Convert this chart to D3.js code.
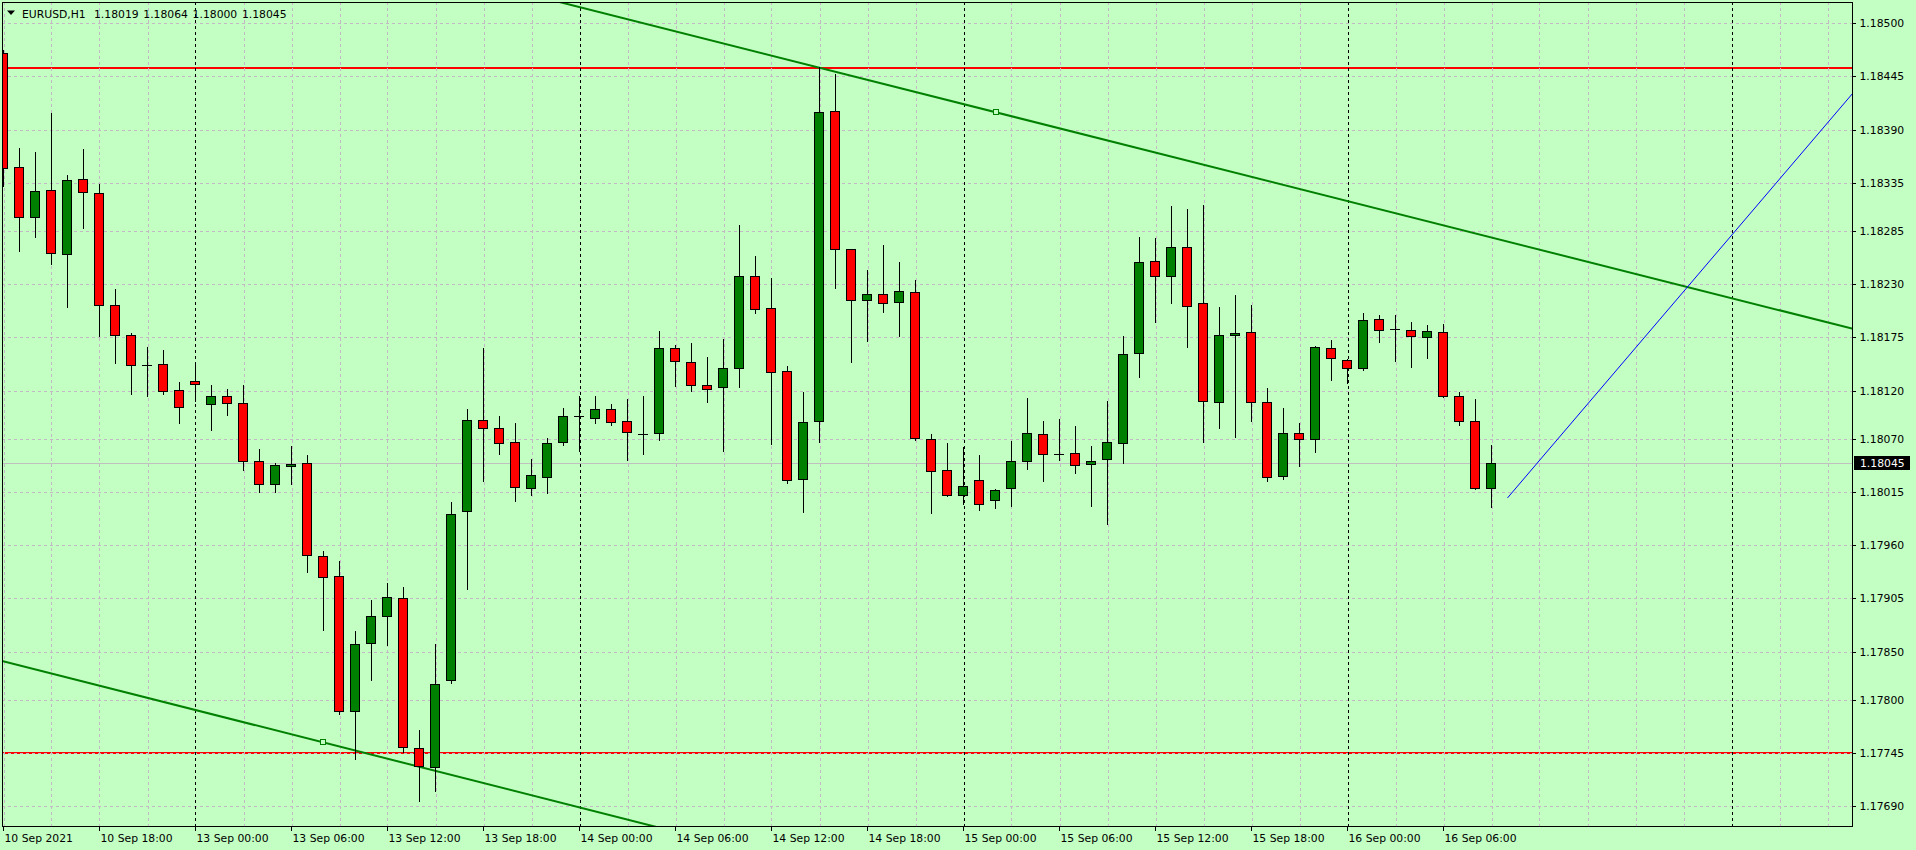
<!DOCTYPE html>
<html><head><meta charset="utf-8">
<script src="https://cdn.jsdelivr.net/npm/d3@7"></script>
<style>
html,body{margin:0;padding:0;background:#c3ffc3;overflow:hidden}
svg{display:block}
text{font-family:"DejaVu Sans",sans-serif;font-size:10.8px;fill:#000}
</style></head><body><svg id="c" width="1916" height="850"></svg>
<script>
// ---------------- data ----------------
const symbol = "EURUSD,H1";
const openP = [1.18469,1.18351,1.18300,1.18328,1.18261,1.18339,1.18324,1.18209,1.18178,1.18146,
 1.18148,1.18121,1.18130,1.18106,1.18114,1.18107,1.18047,1.18023,1.18042,1.18045,
 1.17949,1.17928,1.17789,1.17859,1.17887,1.17905,1.17750,1.17731,1.17821,1.17995,
 1.18090,1.18081,1.18067,1.18019,1.18031,1.18067,1.18094,1.18092,1.18101,1.18089,
 1.18075,1.18076,1.18164,1.18150,1.18126,1.18124,1.18143,1.18239,1.18205,1.18140,
 1.18029,1.18089,1.18409,1.18266,1.18214,1.18220,1.18212,1.18222,1.18070,1.18038,
 1.18012,1.18028,1.18007,1.18019,1.18047,1.18075,1.18054,1.18055,1.18044,1.18049,
 1.18066,1.18159,1.18254,1.18239,1.18269,1.18211,1.18108,1.18178,1.18181,1.18108,
 1.18032,1.18076,1.18070,1.18164,1.18152,1.18143,1.18194,1.18184,1.18183,1.18175,
 1.18181,1.18114,1.18089,1.18019];
const highP = [1.18472,1.18371,1.18367,1.18407,1.18343,1.18370,1.18334,1.18225,1.18180,1.18165,
 1.18162,1.18129,1.18150,1.18126,1.18122,1.18126,1.18060,1.18045,1.18063,1.18053,
 1.17954,1.17944,1.17871,1.17903,1.17921,1.17917,1.17769,1.17858,1.18005,1.18101,
 1.18164,1.18094,1.18086,1.18049,1.18071,1.18102,1.18114,1.18114,1.18106,1.18111,
 1.18114,1.18182,1.18167,1.18169,1.18155,1.18173,1.18291,1.18259,1.18237,1.18145,
 1.18119,1.18455,1.18448,1.18267,1.18245,1.18271,1.18253,1.18234,1.18075,1.18066,
 1.18062,1.18053,1.18018,1.18068,1.18112,1.18089,1.18091,1.18083,1.18063,1.18109,
 1.18177,1.18279,1.18278,1.18311,1.18308,1.18312,1.18207,1.18219,1.18209,1.18123,
 1.18102,1.18086,1.18166,1.18172,1.18153,1.18200,1.18198,1.18198,1.18191,1.18188,
 1.18189,1.18119,1.18111,1.18064];
const lowP = [1.18332,1.18264,1.18279,1.18251,1.18207,1.18288,1.18177,1.18149,1.18116,1.18114,
 1.18116,1.18087,1.18109,1.18079,1.18095,1.18038,1.18015,1.18015,1.18023,1.17932,
 1.17872,1.17785,1.17739,1.17821,1.17857,1.17746,1.17695,1.17706,1.17818,1.17915,
 1.18027,1.18054,1.18006,1.18012,1.18014,1.18064,1.18058,1.18087,1.18084,1.18048,
 1.18054,1.18069,1.18125,1.18120,1.18108,1.18058,1.18124,1.18200,1.18065,1.18024,
 1.17994,1.18067,1.18226,1.18150,1.18171,1.18201,1.18176,1.18069,1.17993,1.18011,
 1.18003,1.17997,1.17999,1.18001,1.18039,1.18027,1.18048,1.18035,1.18001,1.17982,
 1.18045,1.18134,1.18191,1.18211,1.18165,1.18067,1.18081,1.18072,1.18089,1.18026,
 1.18029,1.18042,1.18057,1.18131,1.18128,1.18141,1.18170,1.18151,1.18144,1.18154,
 1.18113,1.18084,1.18018,1.18000];
const closeP = [1.18350,1.18300,1.18327,1.18262,1.18338,1.18325,1.18209,1.18178,1.18146,1.18146,
 1.18120,1.18103,1.18127,1.18114,1.18107,1.18047,1.18023,1.18043,1.18044,1.17950,
 1.17927,1.17789,1.17858,1.17887,1.17906,1.17751,1.17732,1.17817,1.17992,1.18090,
 1.18081,1.18066,1.18020,1.18033,1.18066,1.18094,1.18094,1.18101,1.18088,1.18077,
 1.18075,1.18164,1.18151,1.18126,1.18122,1.18143,1.18239,1.18204,1.18139,1.18028,
 1.18088,1.18408,1.18267,1.18214,1.18220,1.18211,1.18223,1.18071,1.18037,1.18012,
 1.18021,1.18003,1.18017,1.18047,1.18076,1.18054,1.18054,1.18043,1.18047,1.18067,
 1.18158,1.18253,1.18239,1.18269,1.18208,1.18109,1.18178,1.18180,1.18108,1.18031,
 1.18076,1.18070,1.18165,1.18154,1.18143,1.18193,1.18183,1.18184,1.18176,1.18182,
 1.18114,1.18089,1.18019,1.18045];
const yTickValues = [1.18500,1.18445,1.18390,1.18335,1.18285,1.18230,1.18175,1.18120,
 1.18070,1.18015,1.17960,1.17905,1.17850,1.17800,1.17745,1.17690];
const xTickIndex = [0,6,12,18,24,30,36,42,48,54,60,66,72,78,84,90];
const xTickLabels = ["10 Sep 2021","10 Sep 18:00","13 Sep 00:00","13 Sep 06:00","13 Sep 12:00",
 "13 Sep 18:00","14 Sep 00:00","14 Sep 06:00","14 Sep 12:00","14 Sep 18:00","15 Sep 00:00",
 "15 Sep 06:00","15 Sep 12:00","15 Sep 18:00","16 Sep 00:00","16 Sep 06:00"];
const daySeparatorIndex = [12,36,60,84,108];
const resistanceLevel = 1.18454;
const supportLevel = 1.17745;
const bidPrice = 1.18045;
const upperTrend = [[51,1.18454],[62,1.18408]];
const lowerTrend = [[0,1.17840],[20,1.17756]];
const blueTrend = [[94,1.18009],[115.6,1.18428]];

// ---------------- layout ----------------
const W = 1916, H = 850;
const L = 2, T = 2, R = 1853, B = 826;
const svg = d3.select("#c");
const bg = "#c3ffc3";

const x = d3.scaleLinear().domain([0, 115]).range([3.5, 3.5 + 16 * 115]);
const y = d3.scaleLinear().domain([1.176696, 1.185220]).range([B, T]);
const idxMin = x.invert(L), idxMax = x.invert(R);
const px = v => Math.round(v) + 0.5;

svg.append("rect").attr("width", W).attr("height", H).attr("fill", bg);

svg.append("defs").append("clipPath").attr("id", "plot")
  .append("rect").attr("x", L).attr("y", T).attr("width", R - L).attr("height", B - T);

const plot = svg.append("g").attr("clip-path", "url(#plot)");

// horizontal red levels (behind grid)
plot.selectAll("line.lvl").data([resistanceLevel, supportLevel]).join("line")
  .attr("class", "lvl")
  .attr("x1", L).attr("x2", R)
  .attr("y1", d => Math.round(y(d))).attr("y2", d => Math.round(y(d)))
  .attr("stroke", "#ff0000").attr("stroke-width", 2);

// grid
const gridColor = "#c4b8c4";
const vGrid = d3.range(0, 116, 3).filter(i => !daySeparatorIndex.includes(i));
plot.selectAll("line.vg").data(vGrid).join("line").attr("class", "vg")
  .attr("x1", d => px(x(d))).attr("x2", d => px(x(d)))
  .attr("y1", T).attr("y2", B)
  .attr("stroke", gridColor).attr("stroke-dasharray", "3,3").attr("shape-rendering", "crispEdges");
plot.selectAll("line.hg").data(yTickValues).join("line").attr("class", "hg")
  .attr("y1", d => px(y(d))).attr("y2", d => px(y(d)))
  .attr("x1", L).attr("x2", R)
  .attr("stroke", gridColor).attr("stroke-dasharray", "3,3").attr("shape-rendering", "crispEdges");
plot.selectAll("line.ds").data(daySeparatorIndex).join("line").attr("class", "ds")
  .attr("x1", d => px(x(d))).attr("x2", d => px(x(d)))
  .attr("y1", T).attr("y2", B)
  .attr("stroke", "#000").attr("stroke-dasharray", "3,3").attr("shape-rendering", "crispEdges");

// bid line
plot.append("line").attr("x1", L).attr("x2", R)
  .attr("y1", px(y(bidPrice))).attr("y2", px(y(bidPrice)))
  .attr("stroke", "#c0c0c0").attr("shape-rendering", "crispEdges");

// trend lines
function lineAt(a, t) {
  const s = (a[1][1] - a[0][1]) / (a[1][0] - a[0][0]);
  return a[0][1] + (t - a[0][0]) * s;
}
[upperTrend, lowerTrend].forEach(tr => {
  plot.append("line")
    .attr("x1", x(idxMin)).attr("y1", y(lineAt(tr, idxMin)))
    .attr("x2", x(idxMax)).attr("y2", y(lineAt(tr, idxMax)))
    .attr("stroke", "#008000").attr("stroke-width", 2);
  plot.append("rect")
    .attr("x", Math.round(x(tr[1][0])) - 2.5).attr("y", Math.round(y(tr[1][1])) - 2.5)
    .attr("width", 5).attr("height", 5)
    .attr("fill", bg).attr("stroke", "#008000").attr("stroke-width", 1);
});
plot.append("line")
  .attr("x1", x(blueTrend[0][0])).attr("y1", y(blueTrend[0][1]))
  .attr("x2", x(idxMax)).attr("y2", y(lineAt(blueTrend, idxMax)))
  .attr("stroke", "#0000ff").attr("stroke-width", 1);

// candles
const bars = openP.map((o, i) => ({ i, o, h: highP[i], l: lowP[i], c: closeP[i] }));
const cg = plot.append("g").attr("shape-rendering", "crispEdges");
cg.selectAll("line.wick").data(bars).join("line").attr("class", "wick")
  .attr("x1", d => x(d.i)).attr("x2", d => x(d.i))
  .attr("y1", d => Math.round(y(d.h))).attr("y2", d => Math.round(y(d.l)) + 1)
  .attr("stroke", "#000");
cg.selectAll("g.body").data(bars).join(d => d.append("g").attr("class", "body"))
  .each(function (d) {
    const g = d3.select(this);
    const yt = Math.round(y(Math.max(d.o, d.c)));
    const yb = Math.round(y(Math.min(d.o, d.c)));
    const cx = x(d.i);
    if (yb - yt < 1) {
      g.append("line").attr("x1", cx - 5.5).attr("x2", cx + 4.5)
        .attr("y1", yt + 0.5).attr("y2", yt + 0.5).attr("stroke", "#000");
    } else {
      g.append("rect").attr("x", cx - 5).attr("y", yt + 0.5)
        .attr("width", 9).attr("height", yb - yt)
        .attr("fill", d.c > d.o ? "#008000" : "#ff0000")
        .attr("stroke", "#000").attr("stroke-width", 1);
    }
  });

// frame
svg.append("rect").attr("x", L + 0.5).attr("y", T + 0.5)
  .attr("width", R - L - 1).attr("height", B - T)
  .attr("fill", "none").attr("stroke", "#000").attr("shape-rendering", "crispEdges");

// y axis
const yAxis = svg.append("g").attr("transform", `translate(${R - 0.5},0)`)
  .call(d3.axisRight(y).tickValues(yTickValues).tickSize(3).tickPadding(4).tickFormat(d3.format(".5f")));
yAxis.select(".domain").remove();
yAxis.selectAll("line").attr("shape-rendering", "crispEdges");
yAxis.selectAll("text").style("font-family", '"DejaVu Sans",sans-serif').style("font-size", "10.8px");

// x axis
const xAxis = svg.append("g").attr("transform", `translate(-0.5,${B})`)
  .call(d3.axisBottom(x).tickValues(xTickIndex).tickSize(5).tickPadding(3)
    .tickFormat((d, i) => xTickLabels[i]));
xAxis.select(".domain").remove();
xAxis.selectAll("line").attr("shape-rendering", "crispEdges");
xAxis.selectAll("text").attr("text-anchor", "start").attr("x", 1)
  .style("font-family", '"DejaVu Sans",sans-serif').style("font-size", "10.8px");

// bid label
const by = Math.round(y(bidPrice));
svg.append("rect").attr("x", 1854).attr("y", by - 7).attr("width", 56).attr("height", 14).attr("fill", "#000");
svg.append("text").attr("x", 1860).attr("y", by).attr("dy", "0.35em")
  .style("fill", "#fff").text(d3.format(".5f")(bidPrice));

// header
svg.append("path").attr("d", "M7,10.5 L15,10.5 L11,15 Z").attr("fill", "#000");
svg.append("text").attr("x", 22).attr("y", 17.5).text(symbol);
const last = bars[bars.length - 1];
[last.o, last.h, last.l, last.c].forEach((v, k) => {
  svg.append("text").attr("x", 94 + k * 49.3).attr("y", 17.5).text(d3.format(".5f")(v));
});
</script></body></html>
